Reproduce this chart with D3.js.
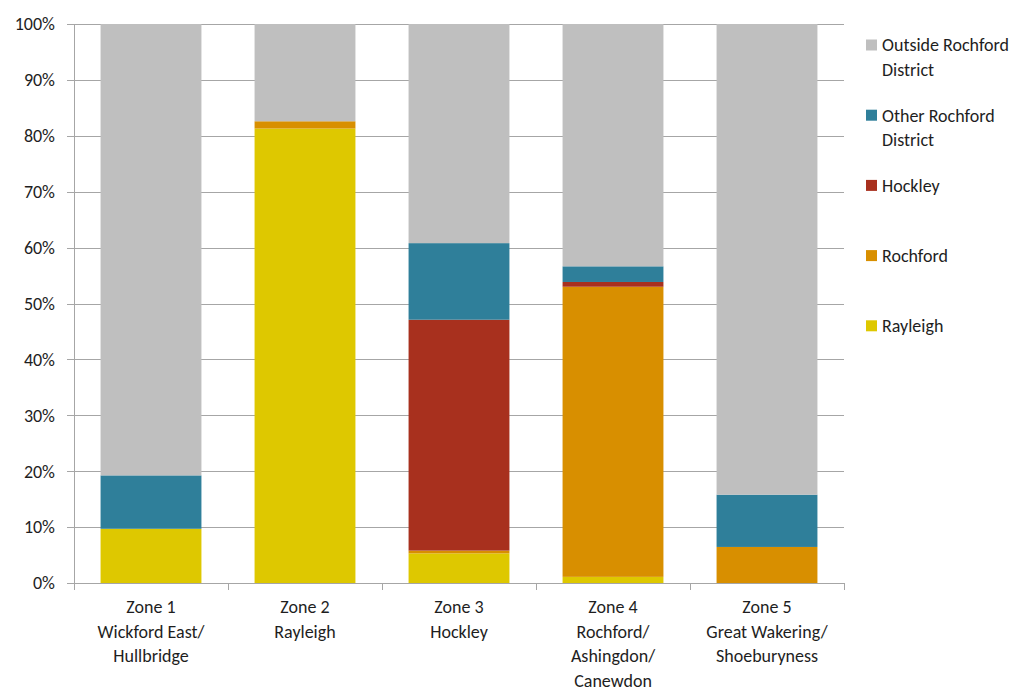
<!DOCTYPE html>
<html>
<head>
<meta charset="utf-8">
<script src="https://cdn.jsdelivr.net/npm/d3@7"></script>
<style>
  body { margin: 0; background: #fff; }
  text { font-family: Carlito, Lato, "Open Sans", sans-serif; fill: #1e1e1e; }
</style>
</head>
<body>
<div id="chart"></div>
<script>
// categories (label lines)
const zones = [
  ["Zone 1", "Wickford East/", "Hullbridge"],
  ["Zone 2", "Rayleigh"],
  ["Zone 3", "Hockley"],
  ["Zone 4", "Rochford/", "Ashingdon/", "Canewdon"],
  ["Zone 5", "Great Wakering/", "Shoeburyness"]
];

// series values (percent), stacked bottom to top
const rayleigh = [9.7, 81.3, 5.3, 1.1, 0];
const rochford = [0, 1.3, 0.5, 51.9, 6.45];
const hockley = [0, 0, 41.3, 0.85, 0];
const otherRochford = [9.55, 0, 13.7, 2.8, 9.35];
const outsideRochford = [80.75, 17.4, 39.2, 43.35, 84.2];

const yTicks = [0, 10, 20, 30, 40, 50, 60, 70, 80, 90, 100];

const series = [
  {name: "Rayleigh", values: rayleigh, color: "#dec800"},
  {name: "Rochford", values: rochford, color: "#d88f00"},
  {name: "Hockley", values: hockley, color: "#a8301e"},
  {name: "Other Rochford District", values: otherRochford, color: "#2f7f9a"},
  {name: "Outside Rochford District", values: outsideRochford, color: "#bfbfbf"}
];

const WIDTH = 1028, HEIGHT = 691;
const MARGIN = {TOP: 24, RIGHT: 184, BOTTOM: 108, LEFT: 74};
const plotW = WIDTH - MARGIN.LEFT - MARGIN.RIGHT;
const plotH = HEIGHT - MARGIN.TOP - MARGIN.BOTTOM;

const svg = d3.select("#chart").append("svg")
  .attr("width", WIDTH)
  .attr("height", HEIGHT);

const g = svg.append("g")
  .attr("transform", "translate(" + MARGIN.LEFT + "," + MARGIN.TOP + ")");

const x = d3.scaleBand()
  .domain(d3.range(zones.length))
  .range([0, plotW])
  .paddingInner(0.345)
  .paddingOuter(0.1725);

const y = d3.scaleLinear().domain([0, 100]).range([plotH, 0]);

// gridlines with small ticks to the left of the axis
g.selectAll(".grid")
  .data(yTicks)
  .enter().append("line")
  .attr("x1", -7)
  .attr("x2", plotW)
  .attr("y1", d => Math.round(y(d)) + 0.5)
  .attr("y2", d => Math.round(y(d)) + 0.5)
  .attr("stroke", "#a6a6a6")
  .attr("stroke-width", 1);

g.selectAll(".ylab")
  .data(yTicks)
  .enter().append("text")
  .attr("x", -19)
  .attr("y", d => y(d))
  .attr("dy", "0.35em")
  .attr("text-anchor", "end")
  .style("font-size", "18px")
  .text(d => d + "%");

// stacked bars
const stackData = zones.map((z, i) => {
  const row = {};
  series.forEach(s => { row[s.name] = s.values[i]; });
  return row;
});
const stacked = d3.stack().keys(series.map(s => s.name))(stackData);

stacked.forEach((layer, k) => {
  g.selectAll(".bar" + k)
    .data(layer)
    .enter().append("rect")
    .attr("x", (d, i) => x(i))
    .attr("width", x.bandwidth())
    .attr("y", d => y(d[1]))
    .attr("height", d => Math.max(0, y(d[0]) - y(d[1])))
    .attr("fill", series[k].color);
});

// y axis line
g.append("line")
  .attr("x1", 0.5).attr("x2", 0.5)
  .attr("y1", 0).attr("y2", plotH)
  .attr("stroke", "#a6a6a6");

// x axis line and category boundary ticks
g.append("line")
  .attr("x1", 0).attr("x2", plotW)
  .attr("y1", plotH + 0.5).attr("y2", plotH + 0.5)
  .attr("stroke", "#a6a6a6");

g.selectAll(".xtick")
  .data(d3.range(zones.length + 1))
  .enter().append("line")
  .attr("x1", d => Math.round(d * plotW / zones.length) + 0.5)
  .attr("x2", d => Math.round(d * plotW / zones.length) + 0.5)
  .attr("y1", plotH)
  .attr("y2", plotH + 7)
  .attr("stroke", "#a6a6a6");

// category labels
zones.forEach((lines, i) => {
  const t = g.append("text")
    .attr("text-anchor", "middle")
    .style("font-size", "18px")
    .attr("transform", "translate(" + (x(i) + x.bandwidth() / 2) + "," + (plotH + 30) + ")");
  lines.forEach((ln, j) => {
    t.append("tspan").attr("x", 0).attr("y", j * 24.6).text(ln);
  });
});

// legend
const legendItems = [
  {lines: ["Outside Rochford", "District"], color: "#bfbfbf"},
  {lines: ["Other Rochford", "District"], color: "#2f7f9a"},
  {lines: ["Hockley"], color: "#a8301e"},
  {lines: ["Rochford"], color: "#d88f00"},
  {lines: ["Rayleigh"], color: "#dec800"}
];
const legend = svg.append("g").attr("transform", "translate(866,45)");
legendItems.forEach((item, i) => {
  const row = legend.append("g").attr("transform", "translate(0," + (i * 70.2) + ")");
  row.append("rect")
    .attr("x", 0).attr("y", -5.5)
    .attr("width", 11).attr("height", 11)
    .attr("fill", item.color);
  const t = row.append("text").style("font-size", "18px");
  item.lines.forEach((ln, j) => {
    t.append("tspan").attr("x", 16).attr("y", j * 25).attr("dy", "0.35em").text(ln);
  });
});
</script>
</body>
</html>
